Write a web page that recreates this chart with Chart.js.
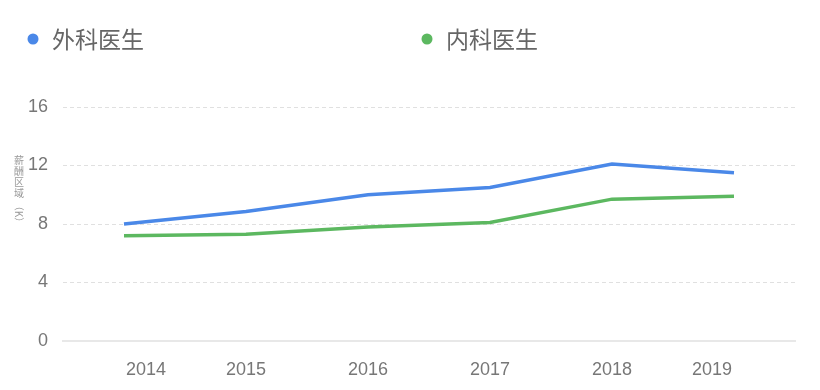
<!DOCTYPE html>
<html>
<head>
<meta charset="utf-8">
<script src="https://cdn.jsdelivr.net/npm/chart.js@4.4.1/dist/chart.umd.min.js"></script>
<style>
  html, body { margin: 0; padding: 0; background: #fff; }
  #wrap { width: 820px; height: 390px; position: relative; }
</style>
</head>
<body>
<div id="wrap"><canvas id="salaryChart"></canvas></div>
<script>
'use strict';

// datos
var years = ['2014', '2015', '2016', '2017', '2018', '2019'];
var waike = [8.0, 8.85, 10.0, 10.5, 12.1, 11.5];   // 外科医生
var neike = [7.2, 7.3, 7.8, 8.1, 9.7, 9.9];        // 内科医生
var yTicks = [0, 4, 8, 12, 16];
var seriesNames = ['外科医生', '内科医生'];
var yTitle = '薪酬区域';
var yUnit = '（K）';

var blue = '#4a88e8';
var green = '#5cb860';
var tickColor = '#777';

function toPoints(arr) {
  return arr.map(function (v, i) { return { x: i, y: v }; });
}

// leyenda dibujada a mano (los items estan muy separados)
var legendPlugin = {
  id: 'manualLegend',
  afterDraw: function (chart) {
    var ctx = chart.ctx;
    var xs = [33, 427];
    ctx.save();
    ctx.font = '23px "Noto Sans CJK SC", sans-serif';
    ctx.textBaseline = 'middle';
    chart.data.datasets.forEach(function (ds, i) {
      ctx.fillStyle = ds.borderColor;
      ctx.beginPath();
      ctx.arc(xs[i], 39, 5.5, 0, Math.PI * 2);
      ctx.fill();
      ctx.fillStyle = '#666';
      ctx.fillText(ds.label, xs[i] + 19, 39);
    });
    ctx.restore();
  }
};

// titulo del eje y en vertical, caracteres de pie
var yTitlePlugin = {
  id: 'yTitleVertical',
  afterDraw: function (chart) {
    var ctx = chart.ctx;
    var x = 19, y = 160, step = 11.2;
    ctx.save();
    ctx.font = '10px "Noto Sans CJK SC", sans-serif';
    ctx.fillStyle = '#999';
    ctx.textAlign = 'center';
    ctx.textBaseline = 'middle';
    for (var i = 0; i < yTitle.length; i++) {
      ctx.fillText(yTitle[i], x, y + i * step);
    }
    var start = y + yTitle.length * step - 4;
    ctx.translate(x, start);
    ctx.rotate(Math.PI / 2);
    ctx.textAlign = 'left';
    ctx.fillText(yUnit, 0, 0);
    ctx.restore();
  }
};

var ctx = document.getElementById('salaryChart').getContext('2d');
var myChart = new Chart(ctx, {
  type: 'line',
  data: {
    datasets: [{
      label: seriesNames[0],
      data: toPoints(waike),
      borderColor: blue,
      backgroundColor: blue,
      borderWidth: 3.5,
      pointRadius: 0,
      tension: 0,
      fill: false
    }, {
      label: seriesNames[1],
      data: toPoints(neike),
      borderColor: green,
      backgroundColor: green,
      borderWidth: 3.5,
      pointRadius: 0,
      tension: 0,
      fill: false
    }]
  },
  options: {
    responsive: true,
    maintainAspectRatio: false,
    animation: false,
    events: [],
    layout: { padding: { top: 107, right: 25, left: 0, bottom: 0 } },
    plugins: {
      legend: { display: false },
      tooltip: { enabled: false }
    },
    scales: {
      x: {
        type: 'linear',
        min: -0.5,
        max: years.length - 0.5,
        afterBuildTicks: function (scale) {
          // primera y ultima etiqueta van corridas hacia adentro
          scale.ticks = years.map(function (y, i) {
            var v = i;
            if (i === 0) v = 0.18;
            if (i === years.length - 1) v = years.length - 1 - 0.18;
            return { value: v };
          });
        },
        afterFit: function (scale) { scale.height = 49; },
        grid: { display: false, drawTicks: false },
        border: { display: true, color: '#e8e8e8', width: 2, dash: [] },
        ticks: {
          padding: 18,
          color: tickColor,
          font: { family: '"Liberation Sans", Arial, sans-serif', size: 18 },
          maxRotation: 0,
          autoSkip: false,
          callback: function (v, i) { return years[i]; }
        }
      },
      y: {
        min: 0,
        max: 16,
        afterBuildTicks: function (scale) {
          scale.ticks = yTicks.map(function (v) { return { value: v }; });
        },
        afterFit: function (scale) { scale.width = 63; },
        grid: {
          drawTicks: false,
          lineWidth: 1,
          color: function (c) {
            return c.tick && c.tick.value === 0 ? 'rgba(0,0,0,0)' : '#e0e0e0';
          }
        },
        border: { display: false, dash: [4, 3] },
        ticks: {
          padding: 15,
          color: tickColor,
          font: { family: '"Liberation Sans", Arial, sans-serif', size: 18 }
        }
      }
    }
  },
  plugins: [legendPlugin, yTitlePlugin]
});
</script>
</body>
</html>
